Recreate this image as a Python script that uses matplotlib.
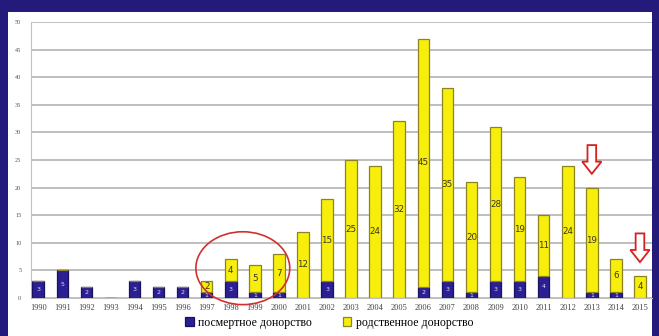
import matplotlib
matplotlib.use("Agg")
import matplotlib.pyplot as plt
from matplotlib.patches import Ellipse, FancyArrow, Rectangle
import numpy as np

# Kidney transplants per year, split by donor type
years = list(range(1990, 2016))
cadaveric = [3, 5, 2, 0, 3, 2, 2, 1, 3, 1, 1, 0, 3, 0, 0, 0, 2, 3, 1, 3, 3, 4, 0, 1, 1, 0]
living = [0, 0, 0, 0, 0, 0, 0, 2, 4, 5, 7, 12, 15, 25, 24, 32, 45, 35, 20, 28, 19, 11, 24, 19, 6, 4]
series_names = ["посмертное донорство", "родственное донорство"]
y_ticks = list(range(0, 51, 5))

# years flagged with arrows
flagged = [2013, 2015]

NAVY = "#241a7c"
BLUE = "#2b1f94"
YELLOW = "#f7ee0c"

fig = plt.figure(figsize=(6.59, 3.36), dpi=100, facecolor=NAVY)
# white slide panel behind the chart
fig.patches.append(Rectangle((8 / 659, 0), (652 - 8) / 659, 1 - 12 / 336,
                             transform=fig.transFigure, facecolor="white",
                             edgecolor="none", zorder=-5))

ax = fig.add_axes([31 / 659, 1 - 298 / 336, (652 - 31) / 659, (298 - 22) / 336])
ax.set_zorder(2)
ax.set_facecolor("white")

x = np.arange(len(years))
w = 0.48
cad = np.array(cadaveric)
liv = np.array(living)

ax.bar(x, cad, width=w, color=BLUE, edgecolor="#1a1260", linewidth=0.9,
       label=series_names[0], zorder=3)
ax.bar(x, liv, width=w, bottom=cad, color=YELLOW, edgecolor="#8c8420",
       linewidth=0.9, label=series_names[1], zorder=3)

# value labels inside each segment
for i in range(len(years)):
    if cad[i] > 0:
        ax.text(x[i], cad[i] / 2, str(cad[i]), ha="center", va="center",
                fontsize=4.5, color="#dcdcf2", zorder=4)
    if liv[i] > 0:
        ax.text(x[i], cad[i] + liv[i] / 2, str(liv[i]), ha="center",
                va="center", fontsize=6.3, color="#3a3420", zorder=4)

ax.set_ylim(0, 50)
ax.set_xlim(-0.3, 25.5)
ax.set_yticks(y_ticks)
ax.set_yticklabels([str(t) for t in y_ticks], fontsize=4.5, color="#555555",
                   family="Liberation Serif")
ax.set_xticks(x)
ax.set_xticklabels([str(y) for y in years], fontsize=6, color="#444444",
                   family="Liberation Serif")
ax.tick_params(axis="y", length=0, pad=7)
ax.tick_params(axis="x", length=0, pad=4)
ax.grid(axis="y", color="#b4b4b4", linewidth=1.2, zorder=0)
for s in ["top", "right"]:
    ax.spines[s].set_visible(False)
ax.spines["left"].set_color("#c0c0c0")
ax.spines["bottom"].set_color("#c0c0c0")

# red ring around 1997-2000
ring = Ellipse((8.5, 5.4), 3.9, 13.2, facecolor="none", edgecolor="#d03030",
               linewidth=1.2, clip_on=False, zorder=5)
ax.add_patch(ring)

# hollow red arrows over the flagged years
for yr in flagged:
    i = years.index(yr)
    top = cad[i] + liv[i]
    arr = FancyArrow(x[i], top + 7.7, 0, -5.2, width=0.36, head_width=0.8,
                     head_length=2.2, length_includes_head=True,
                     facecolor="white", edgecolor="#d82020", linewidth=1.3,
                     zorder=5)
    ax.add_patch(arr)

fig.legend(loc="lower center", bbox_to_anchor=(0.5, -0.01), ncol=2,
           frameon=False, columnspacing=2.6, handlelength=0.7,
           handleheight=0.7, handletextpad=0.4,
           prop={"family": "Liberation Serif", "size": 8.5})

fig.savefig("out.png", dpi=100, facecolor=NAVY)
